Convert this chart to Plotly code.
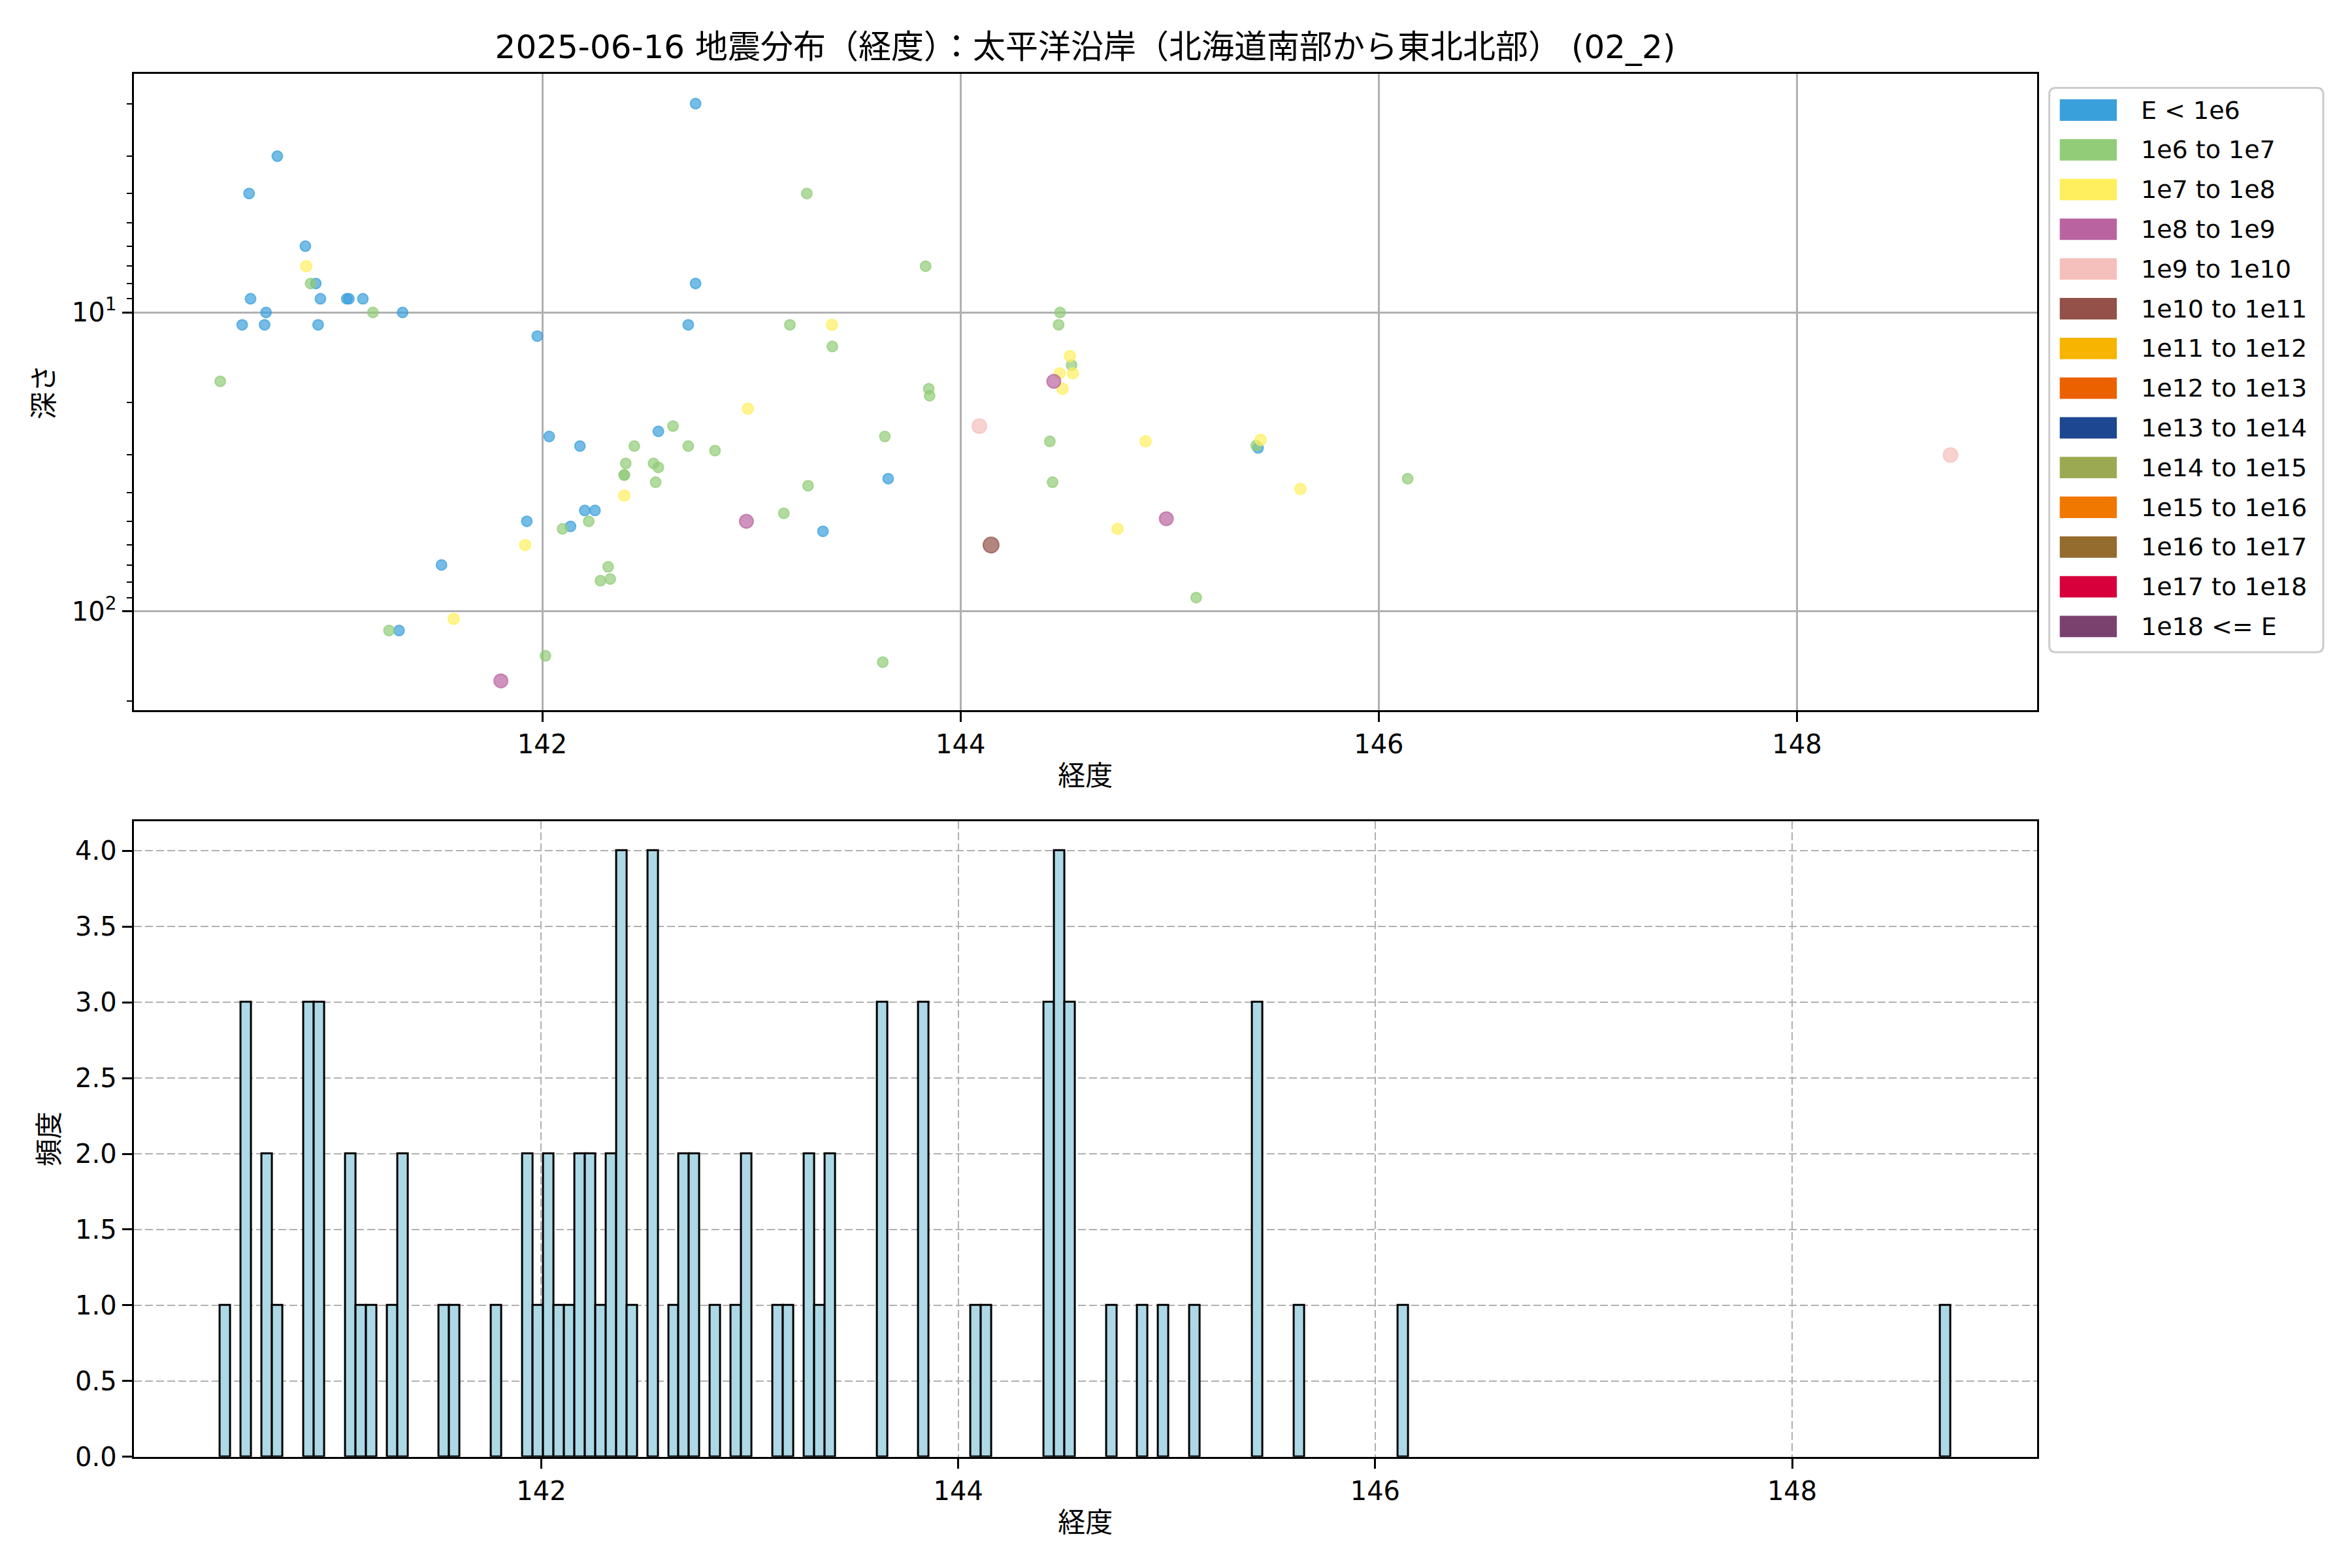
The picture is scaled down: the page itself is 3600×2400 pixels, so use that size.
import plotly.graph_objects as go

# ---------------- data ----------------
# longitude, depth (km) and energy class index of each event
lon = [
    142.733, 140.733, 140.598, 140.867, 140.871, 140.892, 140.917, 140.605, 140.939, 141.065,
    141.075, 141.142, 140.679, 141.190, 141.332, 140.565, 140.672, 140.928, 140.460, 141.976,
    142.033, 142.180, 142.555, 142.625, 142.440, 142.698, 142.826, 142.399, 142.532, 142.555,
    142.392, 142.392, 142.542, 142.392, 142.203, 142.252, 141.926, 142.222, 142.135, 142.097,
    141.918, 141.518, 142.315, 142.278, 142.325, 141.576, 141.267, 141.315, 142.015, 141.802,
    142.733, 142.698, 143.265, 143.833, 143.184, 143.385, 143.387, 144.476, 144.469, 144.523,
    144.531, 144.474, 144.537, 144.446, 144.488, 143.848, 143.852, 142.983, 144.090, 143.638,
    144.427, 144.885, 145.435, 145.423, 145.414, 143.271, 143.654, 144.440, 142.976, 143.155,
    143.342, 144.984, 144.751, 144.146, 145.127, 143.628, 145.625, 146.138, 148.734, 142.935,
]
depth = [
    2.0, 3.0, 4.0, 6.0, 7.0, 8.0, 8.0, 9.0, 9.0, 9.0,
    9.0, 9.0, 10.0, 10.0, 10.0, 11.0, 11.0, 11.0, 17.0, 12.0,
    26.0, 28.0, 25.0, 24.0, 28.0, 28.0, 29.0, 32.0, 32.0, 33.0,
    35.0, 35.0, 37.0, 41.0, 46.0, 46.0, 50.0, 50.0, 52.0, 53.0,
    60.0, 70.0, 71.0, 79.0, 78.0, 106.0, 116.0, 116.0, 141.0, 171.0,
    8.0, 11.0, 4.0, 7.0, 11.0, 11.0, 13.0, 10.0, 11.0, 14.0,
    15.0, 16.0, 16.0, 17.0, 18.0, 18.0, 19.0, 21.0, 24.0, 26.0,
    27.0, 27.0, 26.7, 28.4, 27.9, 38.0, 36.0, 37.0, 50.0, 47.0,
    54.0, 49.0, 53.0, 60.0, 90.0, 148.0, 39.0, 36.0, 30.0, 0.0,
]
energy_class = [
    0, 0, 0, 0, 2, 1, 0, 0, 0, 0,
    0, 0, 0, 1, 0, 0, 0, 0, 1, 0,
    0, 0, 0, 1, 1, 1, 1, 1, 1, 1,
    1, 1, 1, 2, 0, 0, 0, 1, 0, 1,
    2, 0, 1, 1, 1, 2, 1, 0, 1, 3,
    0, 0, 1, 1, 1, 2, 1, 1, 1, 2,
    1, 2, 2, 3, 2, 1, 1, 2, 4, 1,
    1, 2, 2, 0, 1, 1, 0, 1, 3, 1,
    0, 3, 2, 5, 1, 1, 2, 1, 4, 0,
]
class_labels = [
    "E < 1e6", "1e6 to 1e7", "1e7 to 1e8", "1e8 to 1e9", "1e9 to 1e10",
    "1e10 to 1e11", "1e11 to 1e12", "1e12 to 1e13", "1e13 to 1e14", "1e14 to 1e15",
    "1e15 to 1e16", "1e16 to 1e17", "1e17 to 1e18", "1e18 <= E",
]
lon_ticks = [142, 144, 146, 148]
depth_ticks = [10, 100]
depth_ticktext = ["10<sup>1</sup>", "10<sup>2</sup>"]
depth_minor = [2, 3, 4, 5, 6, 7, 8, 9, 20, 30, 40, 50, 60, 70, 80, 90, 200]
count_ticks = [0.0, 0.5, 1.0, 1.5, 2.0, 2.5, 3.0, 3.5, 4.0]
bin_width = 0.05

title_text = "2025-06-16 地震分布（経度）：太平洋沿岸（北海道南部から東北北部） (02_2)"

# ---------------- styles ----------------
class_colors = [
    (58, 160, 220), (146, 204, 120), (255, 239, 95), (185, 100, 160), (245, 191, 187),
    (147, 81, 73), (247, 180, 0), (235, 97, 0), (29, 71, 144), (155, 170, 82),
    (240, 120, 0), (147, 108, 46), (215, 0, 58), (122, 65, 111),
]
marker_sizes = [16, 16, 17, 21, 22, 24, 26, 28, 30, 32, 34, 36, 38, 40]
FONT = "DejaVu Sans, Noto Sans CJK JP"
W, H = 3600, 2400
OFF = 8  # page body margin of the exported html

def px(x):
    return (x - OFF) / W

def py(y):
    return 1 - (y - OFF) / H

def rgba(c, a):
    return "rgba(%d,%d,%d,%.2f)" % (c[0], c[1], c[2], a)

fig = go.Figure()

for c in range(len(class_labels)):
    xs = [lon[i] for i in range(len(lon)) if energy_class[i] == c and depth[i] > 0]
    ys = [depth[i] for i in range(len(lon)) if energy_class[i] == c and depth[i] > 0]
    if not xs:
        continue
    fig.add_trace(go.Scatter(
        x=xs, y=ys, mode="markers", name=class_labels[c], showlegend=False,
        xaxis="x", yaxis="y",
        marker=dict(size=marker_sizes[c], color=rgba(class_colors[c], 0.7),
                    line=dict(color=rgba(class_colors[c], 0.7), width=2)),
    ))

fig.add_trace(go.Histogram(
    x=lon, xaxis="x2", yaxis="y2", showlegend=False,
    xbins=dict(start=min(lon), end=max(lon) + bin_width, size=bin_width),
    marker=dict(color="lightblue", line=dict(color="black", width=3)),
))

x_dom = [px(204.6), px(3118)]
common_axis = dict(
    showline=True, mirror=True, linecolor="black", linewidth=3,
    ticks="outside", ticklen=15, tickwidth=3, tickcolor="black",
    tickfont=dict(size=40, family=FONT, color="black"),
    zeroline=False, automargin=False,
)
title_font = dict(size=42, family=FONT, color="black")

fig.update_layout(
    width=W, height=H,
    margin=dict(l=0, r=0, t=0, b=0),
    paper_bgcolor="white", plot_bgcolor="white",
    font=dict(family=FONT, color="black", size=40),
    bargap=0,
    title=dict(text=title_text, x=px(1661), xanchor="center", y=py(71), yanchor="middle",
               font=dict(size=50, family=FONT, color="black")),
    xaxis=dict(domain=x_dom, anchor="y", range=[140.046, 149.148],
               tickvals=lon_ticks, showgrid=True, gridcolor="#b0b0b0", gridwidth=3,
               title=dict(text="経度", font=title_font, standoff=12), **common_axis),
    yaxis=dict(domain=[py(1087), py(112.8)], anchor="x", type="log", range=[2.331, 0.201],
               tickvals=depth_ticks, ticktext=depth_ticktext,
               showgrid=True, gridcolor="#b0b0b0", gridwidth=3,
               minor=dict(tickmode="array", tickvals=depth_minor, ticks="outside",
                          ticklen=8, tickwidth=2, tickcolor="black", showgrid=False),
               title=dict(text="深さ", font=title_font, standoff=15), **common_axis),
    xaxis2=dict(domain=x_dom, anchor="y2", range=[140.045, 149.175],
                tickvals=lon_ticks, showgrid=True, gridcolor="#b0b0b0", gridwidth=2,
                griddash="12px,5px",
                title=dict(text="経度", font=title_font, standoff=12), **common_axis),
    yaxis2=dict(domain=[py(2229.8), py(1256.8)], anchor="x2", range=[0, 4.196],
                tickvals=count_ticks, ticktext=["%.1f" % v for v in count_ticks],
                showgrid=True, gridcolor="#b0b0b0", gridwidth=2, griddash="12px,5px",
                title=dict(text="頻度", font=title_font, standoff=12), **common_axis),
)

# ---------------- manual legend (rectangular patches like the reference) ----------------
lx0, lx1, ly0, ly1, r = 3136.7, 3556.0, 134.4, 998.3, 10
path = (
    f"M {px(lx0 + r)} {py(ly0)} L {px(lx1 - r)} {py(ly0)} "
    f"Q {px(lx1)} {py(ly0)} {px(lx1)} {py(ly0 + r)} "
    f"L {px(lx1)} {py(ly1 - r)} Q {px(lx1)} {py(ly1)} {px(lx1 - r)} {py(ly1)} "
    f"L {px(lx0 + r)} {py(ly1)} Q {px(lx0)} {py(ly1)} {px(lx0)} {py(ly1 - r)} "
    f"L {px(lx0)} {py(ly0 + r)} Q {px(lx0)} {py(ly0)} {px(lx0 + r)} {py(ly0)} Z"
)
shapes = [dict(type="path", path=path, xref="paper", yref="paper",
               line=dict(color="#cccccc", width=3), fillcolor="white")]
annotations = []
for i, lab in enumerate(class_labels):
    yc = 168.5 + 60.8 * i
    shapes.append(dict(type="rect", xref="paper", yref="paper",
                       x0=px(3152.7), x1=px(3240), y0=py(yc + 16.4), y1=py(yc - 16.4),
                       line=dict(width=0), fillcolor=rgba(class_colors[i], 1.0)))
    annotations.append(dict(text=lab, xref="paper", yref="paper", x=px(3275), y=py(yc),
                            xanchor="left", yanchor="middle", showarrow=False,
                            font=dict(size=38, family=FONT, color="black")))
fig.update_layout(shapes=shapes, annotations=annotations)

fig.write_html("out.html")
